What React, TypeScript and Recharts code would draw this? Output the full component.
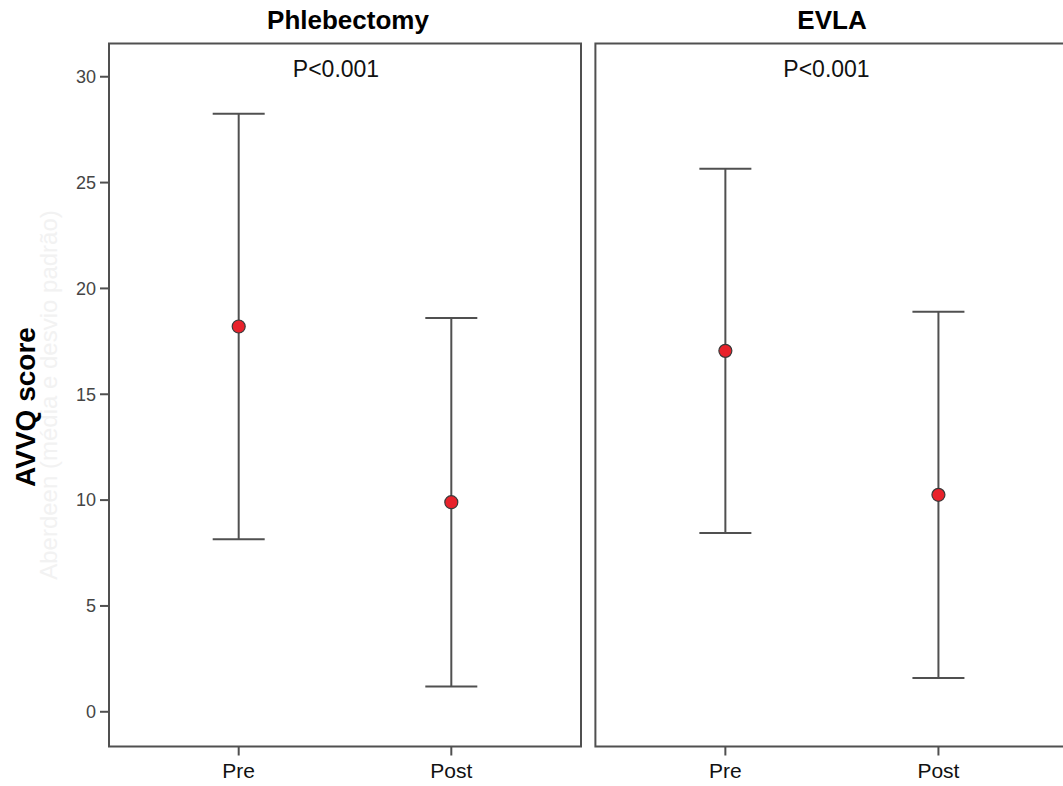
import React from 'react';
import { ScatterChart, Scatter, XAxis, YAxis, ErrorBar, ReferenceArea } from 'recharts';

const groups = ['Phlebectomy', 'EVLA'];
const timepoints = ['Pre', 'Post'];
const pValues = ['P<0.001', 'P<0.001'];
const phlebectomyMean = [18.2, 9.9];
const phlebectomySd = [10.05, 8.7];
const evlaMean = [17.05, 10.25];
const evlaSd = [8.6, 8.65];
const yTicks = [0, 5, 10, 15, 20, 25, 30];

const X_DOMAIN: [number, number] = [-0.61, 1.61];
const Y_DOMAIN: [number, number] = [-1.64, 31.57];

const FONT = "'Liberation Sans', Arial, Helvetica, sans-serif";
const LINE = '#505050';

const buildRows = (means: number[], sds: number[]) =>
  timepoints.map((t, i) => ({ x: i, label: t, mean: means[i], sd: sds[i] }));

// red mean marker with a dark rim, drawn over the error bar
const MeanDot = (props: any) => {
  const { cx, cy } = props;
  if (cx == null || cy == null) return null;
  return <circle cx={cx} cy={cy} r={6.5} fill="#e8222b" stroke="#3a3a3a" strokeWidth={1.2} />;
};

interface PanelProps {
  rows: { x: number; label: string; mean: number; sd: number }[];
  showYAxis: boolean;
  width: number;
  marginLeft: number;
  marginRight: number;
}

function Panel({ rows, showYAxis, width, marginLeft, marginRight }: PanelProps) {
  return (
    <ScatterChart
      width={width}
      height={786}
      margin={{ top: 43.5, right: marginRight, bottom: 0, left: marginLeft }}
    >
      <XAxis
        type="number"
        dataKey="x"
        domain={X_DOMAIN}
        allowDataOverflow
        ticks={[0, 1]}
        interval={0}
        tickFormatter={(v: number) => timepoints[v] ?? ''}
        tick={{ fill: '#111', fontSize: 21 }}
        tickLine={{ stroke: LINE, strokeWidth: 2 }}
        tickSize={9}
        tickMargin={7.5}
        axisLine={false}
        height={39.5}
      />
      <YAxis
        type="number"
        dataKey="mean"
        domain={Y_DOMAIN}
        allowDataOverflow
        ticks={yTicks}
        interval={0}
        hide={!showYAxis}
        tick={{ fill: '#454545', fontSize: 18 }}
        tickLine={{ stroke: LINE, strokeWidth: 2 }}
        tickSize={9}
        tickMargin={4}
        axisLine={false}
        width={109}
      />
      <Scatter data={rows} dataKey="mean" isAnimationActive={false} shape={<MeanDot />}>
        <ErrorBar dataKey="sd" direction="y" width={26} stroke={LINE} strokeWidth={2} isAnimationActive={false} />
      </Scatter>
      <ReferenceArea
        x1={X_DOMAIN[0]}
        x2={X_DOMAIN[1]}
        y1={Y_DOMAIN[0]}
        y2={Y_DOMAIN[1]}
        ifOverflow="visible"
        fill="none"
        fillOpacity={0}
        stroke={LINE}
        strokeWidth={2}
      />
    </ScatterChart>
  );
}

export default function App() {
  const phleb = buildRows(phlebectomyMean, phlebectomySd);
  const evla = buildRows(evlaMean, evlaSd);

  return (
    <div
      style={{
        position: 'fixed',
        left: 0,
        top: 0,
        width: 1063,
        height: 786,
        overflow: 'hidden',
        background: '#fff',
        fontFamily: FONT,
      }}
    >
      <div style={{ position: 'absolute', left: 0, top: 0 }}>
        <Panel rows={phleb} showYAxis width={600} marginLeft={0} marginRight={19} />
      </div>
      <div style={{ position: 'absolute', left: 590, top: 0 }}>
        <Panel rows={evla} showYAxis={false} width={500} marginLeft={5.4} marginRight={21.6} />
      </div>

      {/* titles, p-values and axis title */}
      <svg
        width={1063}
        height={786}
        style={{ position: 'absolute', left: 0, top: 0, pointerEvents: 'none', fontFamily: FONT }}
      >
        <text x={348} y={28.5} textAnchor="middle" fontSize={26} fontWeight="bold" fill="#000">
          {groups[0]}
        </text>
        <text x={832} y={28.5} textAnchor="middle" fontSize={26} fontWeight="bold" fill="#000">
          {groups[1]}
        </text>
        <text x={336} y={77} textAnchor="middle" fontSize={23} fill="#111">
          {pValues[0]}
        </text>
        <text x={826.5} y={77} textAnchor="middle" fontSize={23} fill="#111">
          {pValues[1]}
        </text>
        <text
          x={57}
          y={395}
          textAnchor="middle"
          fontSize={24}
          fill="#f2f2f2"
          transform="rotate(-90 57 395)"
        >
          Aberdeen (média e desvio padrão)
        </text>
        <text
          x={35}
          y={407}
          textAnchor="middle"
          fontSize={28}
          fontWeight="bold"
          fill="#000"
          transform="rotate(-90 35 407)"
        >
          AVVQ score
        </text>
      </svg>
    </div>
  );
}
